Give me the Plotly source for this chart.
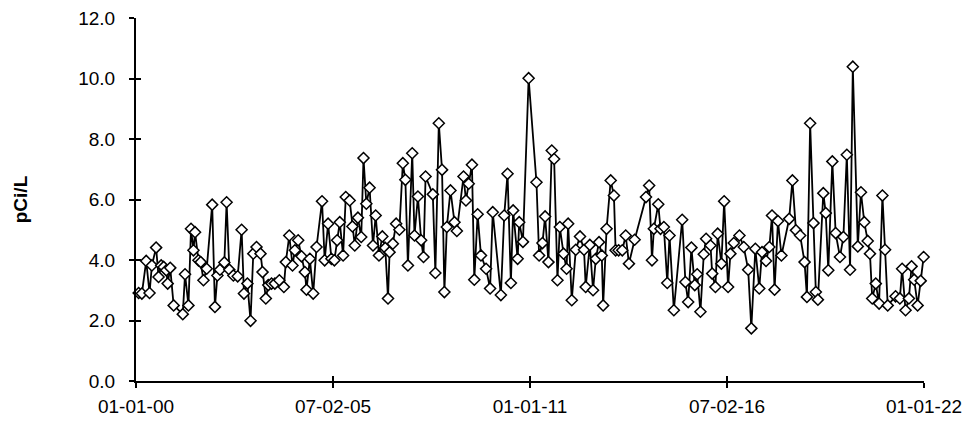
import plotly.graph_objects as go

# Sample collection dates and measured radon concentrations (pCi/L)
dates = [
    "2000-01-28", "2000-03-01", "2000-04-14", "2000-05-18", "2000-06-11", "2000-07-24",
    "2000-08-18", "2000-09-14", "2000-10-09", "2000-11-05", "2000-11-19", "2000-12-15",
    "2001-01-19", "2001-04-22", "2001-05-15", "2001-06-19", "2001-07-15", "2001-08-09",
    "2001-08-25", "2001-09-29", "2001-10-22", "2001-11-19", "2001-12-22", "2002-02-16",
    "2002-03-16", "2002-04-10", "2002-05-06", "2002-06-20", "2002-07-13", "2002-08-10",
    "2002-09-20", "2002-11-03", "2002-12-13", "2003-01-06", "2003-02-10", "2003-03-14",
    "2003-04-11", "2003-05-14", "2003-06-24", "2003-07-14", "2003-08-17", "2003-09-11",
    "2003-10-14", "2003-11-17", "2004-01-02", "2004-02-17", "2004-03-08", "2004-04-12",
    "2004-05-15", "2004-06-08", "2004-07-12", "2004-08-15", "2004-09-18", "2004-10-05",
    "2004-11-08", "2004-12-12", "2005-01-15", "2005-03-12", "2005-04-08", "2005-05-13",
    "2005-06-16", "2005-07-16", "2005-08-13", "2005-09-09", "2005-10-13", "2005-11-09",
    "2005-12-19", "2006-01-16", "2006-02-09", "2006-03-13", "2006-04-16", "2006-05-09",
    "2006-06-07", "2006-07-10", "2006-08-14", "2006-09-10", "2006-10-14", "2006-11-17",
    "2006-12-17", "2007-01-14", "2007-01-30", "2007-03-04", "2007-04-07", "2007-05-10",
    "2007-06-14", "2007-07-10", "2007-08-05", "2007-09-18", "2007-10-11", "2007-11-15",
    "2007-12-18", "2008-01-11", "2008-02-01", "2008-04-15", "2008-05-11", "2008-06-15",
    "2008-07-18", "2008-08-11", "2008-09-05", "2008-10-12", "2008-11-22", "2008-12-16",
    "2009-02-22", "2009-03-19", "2009-04-16", "2009-05-19", "2009-06-12", "2009-07-16",
    "2009-08-19", "2009-10-10", "2009-11-20", "2009-12-17", "2010-03-10", "2010-04-13",
    "2010-05-17", "2010-06-20", "2010-07-13", "2010-08-28", "2010-09-13", "2010-10-21",
    "2010-12-18", "2011-03-08", "2011-04-04", "2011-05-08", "2011-06-04", "2011-07-08",
    "2011-08-11", "2011-09-04", "2011-10-08", "2011-11-01", "2011-12-09", "2012-01-09",
    "2012-01-25", "2012-03-02", "2012-04-12", "2012-05-25", "2012-07-05", "2012-07-22",
    "2012-09-02", "2012-10-05", "2012-11-02", "2012-12-05", "2013-01-02", "2013-01-16",
    "2013-02-20", "2013-04-03", "2013-05-06", "2013-05-23", "2013-06-23", "2013-07-30",
    "2013-09-03", "2013-10-06", "2013-12-03", "2014-03-29", "2014-04-30", "2014-05-29",
    "2014-06-17", "2014-08-01", "2014-08-24", "2014-09-27", "2014-11-01", "2014-11-24",
    "2015-01-07", "2015-04-02", "2015-05-05", "2015-06-02", "2015-07-05", "2015-08-08",
    "2015-09-02", "2015-10-05", "2015-11-08", "2015-12-02", "2016-01-16", "2016-02-02",
    "2016-03-06", "2016-03-29", "2016-05-06", "2016-06-03", "2016-07-13", "2016-08-06",
    "2016-09-09", "2016-11-06", "2016-12-20", "2017-02-03", "2017-03-07", "2017-04-17",
    "2017-05-27", "2017-06-24", "2017-08-04", "2017-09-07", "2017-10-04", "2017-10-30",
    "2017-12-04", "2018-01-08", "2018-03-28", "2018-04-30", "2018-06-05", "2018-07-18",
    "2018-09-01", "2018-09-25", "2018-10-28", "2018-12-01", "2018-12-25", "2019-01-15",
    "2019-03-11", "2019-04-05", "2019-05-01", "2019-06-11", "2019-07-15", "2019-08-28",
    "2019-10-02", "2019-11-06", "2019-12-09", "2020-01-06", "2020-02-26", "2020-03-29",
    "2020-05-02", "2020-06-06", "2020-06-29", "2020-07-22", "2020-08-27", "2020-09-30",
    "2020-11-03", "2020-11-30", "2020-12-27", "2021-03-17", "2021-04-30", "2021-05-23",
    "2021-06-27", "2021-07-31", "2021-08-27", "2021-09-23", "2021-10-28", "2021-11-28",
    "2021-12-28",
]

radon = [
    2.91, 2.89, 3.97, 2.91, 3.82, 4.41,
    3.44, 3.82, 3.77, 3.66, 3.22, 3.74,
    2.50, 2.21, 3.53, 2.50, 5.03, 4.32,
    4.92, 3.99, 3.93, 3.33, 3.71, 5.83,
    2.45, 3.49, 3.68, 3.92, 5.91, 3.68,
    3.49, 3.46, 5.00, 2.89, 3.22, 1.99,
    4.21, 4.43, 4.21, 3.60, 2.73, 3.17,
    3.22, 3.22, 3.33, 3.11, 3.93, 4.81,
    3.82, 4.32, 4.65, 4.12, 3.60, 3.02,
    4.04, 2.89, 4.43, 5.94, 3.99, 5.20,
    4.04, 3.99, 4.65, 5.25, 4.15, 6.08,
    5.97, 5.11, 4.48, 5.40, 4.76, 7.37,
    5.86, 6.39, 4.48, 5.47, 4.15, 4.78,
    4.40, 2.73, 4.26, 4.54, 5.20, 5.00,
    7.20, 6.65, 3.82, 7.53, 4.81, 6.10,
    4.65, 4.10, 6.76, 6.17, 3.57, 8.52,
    6.98, 2.94, 5.09, 6.30, 5.25, 4.96,
    6.76, 5.97, 6.52, 7.15, 3.35, 5.51,
    4.15, 3.71, 3.06, 5.58, 2.84, 5.47,
    6.85, 3.24, 5.64, 4.04, 5.25, 4.60,
    10.01, 6.57, 4.15, 4.56, 5.44, 3.93,
    7.62, 7.34, 3.33, 5.09, 4.21, 3.71,
    5.20, 2.67, 4.34, 4.78, 4.34, 3.11,
    4.50, 3.00, 4.04, 4.59, 4.15, 2.50,
    5.03, 6.63, 6.13, 4.32, 4.32, 4.32,
    4.81, 3.88, 4.67, 6.08, 6.46, 3.99,
    5.03, 5.84, 5.03, 5.09, 3.24, 4.81,
    2.34, 5.33, 3.27, 2.61, 4.41, 3.17,
    3.53, 2.29, 4.19, 4.70, 4.48, 3.55,
    3.11, 4.87, 3.88, 5.94, 3.11, 4.21,
    4.56, 4.81, 4.43, 3.68, 1.74, 4.37,
    3.06, 4.26, 3.97, 4.43, 5.47, 3.02,
    5.29, 4.15, 5.36, 6.63, 4.98, 4.81,
    3.93, 2.78, 8.52, 5.22, 2.94, 2.69,
    6.21, 5.55, 3.66, 7.26, 4.89, 4.10,
    4.76, 7.48, 3.68, 10.39, 4.45, 6.24,
    5.25, 4.63, 4.21, 2.73, 3.22, 2.56,
    6.13, 4.34, 2.50, 2.80, 2.73, 3.71,
    2.34, 2.73, 3.79, 3.35, 2.50, 3.31,
    4.10,
]

# Axis ticks
x_tick_dates = ["2000-01-01", "2005-07-02", "2011-01-01", "2016-07-02", "2022-01-01"]
x_tick_labels = ["01-01-00", "07-02-05", "01-01-11", "07-02-16", "01-01-22"]
y_tick_values = [0, 2, 4, 6, 8, 10, 12]

x_range = ["2000-01-01", "2022-01-01"]
y_range = [0, 12]

font_family = "Arial, Liberation Sans, sans-serif"

fig = go.Figure()

fig.add_trace(go.Scatter(
    x=dates,
    y=radon,
    mode="lines+markers",
    line=dict(color="black", width=1.8),
    marker=dict(symbol="diamond", size=8.5, color="white",
                line=dict(color="black", width=1.5)),
    showlegend=False,
    cliponaxis=False,
))

# Placeholder trace so the overlay axes (inner half of the cross ticks) get drawn
fig.add_trace(go.Scatter(x=[None], y=[None], xaxis="x2", yaxis="y2",
                         showlegend=False, hoverinfo="skip"))

axis_common = dict(
    showgrid=False,
    zeroline=False,
    showline=True,
    linecolor="black",
    linewidth=2,
    ticklen=5,
    tickwidth=1.5,
    tickcolor="black",
    automargin=False,
)

fig.update_layout(
    width=973,
    height=421,
    margin=dict(l=136, r=49, t=18, b=40),
    paper_bgcolor="white",
    plot_bgcolor="white",
    font=dict(family=font_family, size=19, color="black"),
    xaxis=dict(
        **axis_common,
        type="date",
        range=x_range,
        tickmode="array",
        tickvals=x_tick_dates,
        ticktext=x_tick_labels,
        ticks="outside",
        ticklabelstandoff=2,
        tickfont=dict(size=19),
    ),
    yaxis=dict(
        **axis_common,
        range=y_range,
        tickmode="array",
        tickvals=y_tick_values,
        tickformat=".1f",
        ticks="outside",
        ticklabelstandoff=10,
        tickfont=dict(size=19),
        title=dict(text="<b>pCi/L</b>", font=dict(size=19), standoff=46),
    ),
    xaxis2=dict(
        **axis_common,
        type="date",
        range=x_range,
        tickmode="array",
        tickvals=x_tick_dates,
        ticks="inside",
        showticklabels=False,
        overlaying="x",
        anchor="y2",
        side="bottom",
    ),
    yaxis2=dict(
        **axis_common,
        range=y_range,
        tickmode="array",
        tickvals=y_tick_values,
        ticks="inside",
        showticklabels=False,
        overlaying="y",
        anchor="x2",
        side="left",
    ),
)

fig.write_html("out.html")
